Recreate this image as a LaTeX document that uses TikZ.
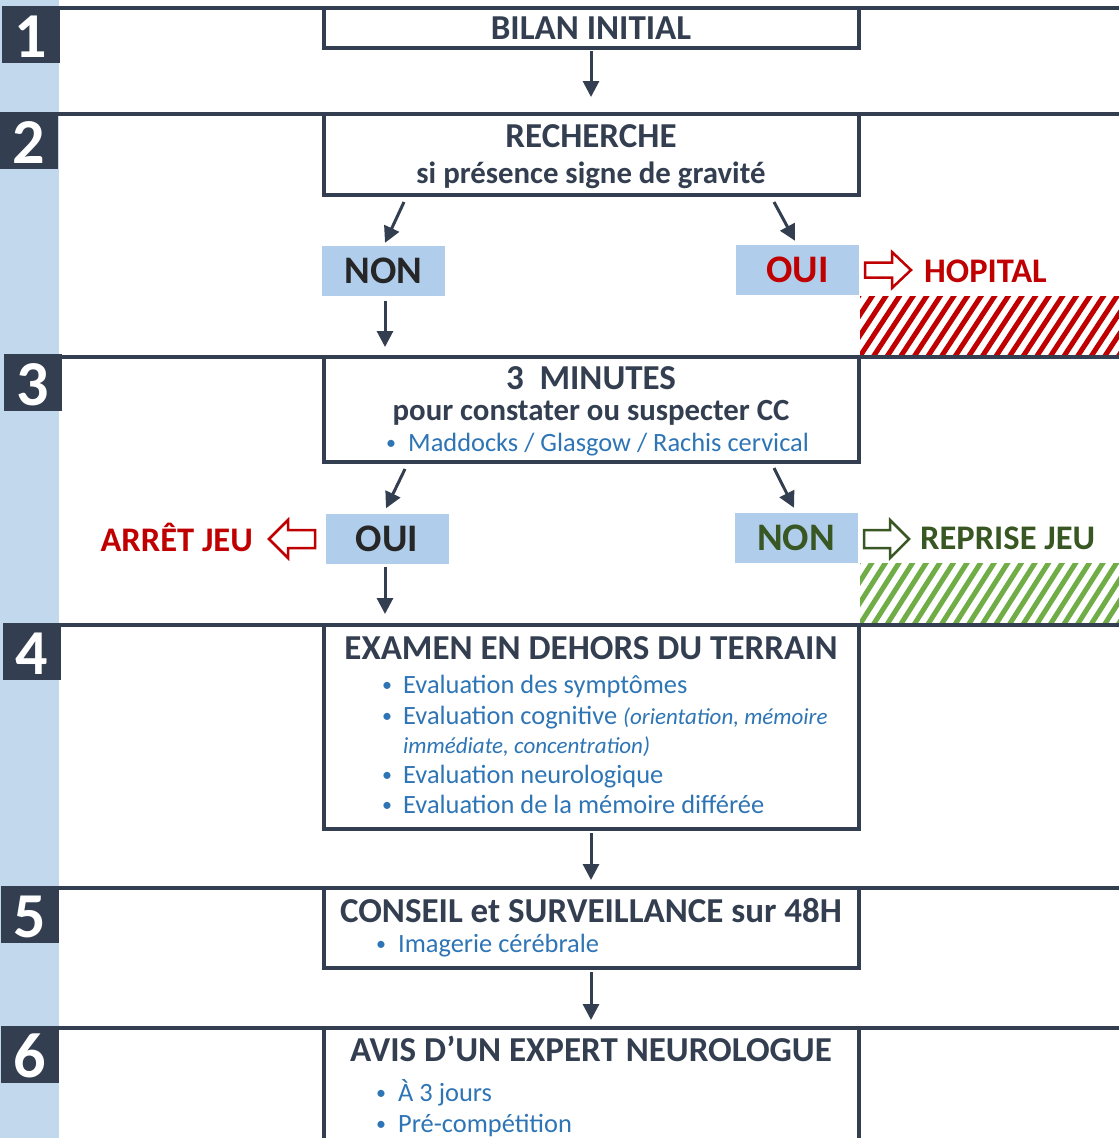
\documentclass[tikz,border=0pt]{standalone}
\usepackage{fontspec}
\setmainfont{Carlito}
\usetikzlibrary{arrows.meta}
\definecolor{navy}{HTML}{333F50}
\definecolor{stripc}{HTML}{C2D8EC}
\definecolor{labfill}{HTML}{B0CEEB}
\definecolor{bluetxt}{HTML}{2E75B6}
\definecolor{redc}{HTML}{C00000}
\definecolor{greenc}{HTML}{385723}
\definecolor{hatchg}{HTML}{70AD47}
\definecolor{darktxt}{HTML}{262626}
\newcommand\myfs[1]{\fontsize{#1}{#1}\selectfont}
\tikzset{
  mainbox/.style={draw=navy, line width=4pt, minimum width=535pt, inner sep=0pt, fill=white},
  hdr/.style={font=\bfseries\myfs{35}, text=navy, inner sep=0pt, anchor=base},
  subhdr/.style={font=\bfseries\myfs{30.8}, text=navy, inner sep=0pt, anchor=base},
  item/.style={font=\myfs{26.4}, text=bluetxt, inner sep=0pt, anchor=base west},
  itdot/.style={font=\myfs{20}, text=bluetxt, inner sep=0pt, anchor=base},
  lab/.style={fill=labfill, minimum width=123pt, minimum height=50pt, inner sep=0pt, font=\bfseries\myfs{39}},
  outtxt/.style={font=\bfseries\myfs{34.5}, inner sep=0pt},
  numbox/.style={fill=navy, minimum width=58pt, minimum height=57pt, inner sep=0pt},
  digit/.style={font=\bfseries\myfs{64}, text=white, inner sep=0pt, anchor=base},
  sepline/.style={draw=navy, line width=4pt},
  arr/.style={draw=navy, line width=3pt, -{Triangle[width=16pt,length=16pt]}},
  blockr/.style={draw=redc, line width=2.5pt, fill=white, line join=miter},
  blockg/.style={draw=greenc, line width=2.5pt, fill=white, line join=miter},
}
\begin{document}
\begin{tikzpicture}[x=1pt,y=-1pt]
\useasboundingbox (0,0) rectangle (1119,1138);
% left strip
\fill[stripc] (0,0) rectangle (59,1138);
% separators
\foreach \yy in {8,114,357,625,888,1028} \draw[sepline] (50,\yy) -- (1119,\yy);
% hatched areas
\begin{scope}
  \clip (860,296) rectangle (1119,354);
  \foreach \k in {0,...,23} \draw[redc, line width=5pt] ({818+\k*13.6},358) -- ++(42,-64);
\end{scope}
\begin{scope}
  \clip (860,563) rectangle (1119,622);
  \foreach \k in {0,...,23} \draw[hatchg, line width=5pt] ({818+\k*13.6},626) -- ++(42,-66);
\end{scope}
% number boxes
\node[numbox] (n1) at (31,34.5) {};
\node[numbox] (n2) at (29,140) {};
\node[numbox] (n3) at (33,382.5) {};
\node[numbox] (n4) at (31.5,651) {};
\node[numbox] (n5) at (30,914) {};
\node[numbox] (n6) at (30,1054) {};
\node[digit] (d1) at ([yshift=5.5pt]n1.south) {1};
\node[digit] (d2) at ([yshift=5.5pt]n2.south) {2};
\node[digit] (d3) at ([yshift=5.5pt]n3.south) {3};
\node[digit] (d4) at ([yshift=5.5pt]n4.south) {4};
\node[digit] (d5) at ([yshift=5.5pt]n5.south) {5};
\node[digit] (d6) at ([yshift=5.5pt]n6.south) {6};
% main boxes
\node[mainbox, minimum height=40pt] (b1) at (591,28) {};
\node[mainbox, minimum height=81pt] (b2) at (591,154.5) {};
\node[mainbox, minimum height=105pt] (b3) at (591,409.5) {};
\node[mainbox, minimum height=204pt] (b4) at (591,727) {};
\node[mainbox, minimum height=80pt] (b5) at (591,928) {};
\node[mainbox, minimum height=132pt] (b6) at (591,1094) {};
% texts of boxes
\node[hdr] (t1) at (591,39) {BILAN INITIAL};
\node[hdr] (t2a) at (591,147) {RECHERCHE};
\node[subhdr] (t2b) at (591,183) {si présence signe de gravité};
\node[hdr] (t3a) at (591,389) {3\hspace{0.45em}MINUTES};
\node[subhdr] (t3b) at (591,420) {pour constater ou suspecter CC};
\node[itdot] (p3) at (391,449) {•};
\node[item] (t3c) at (408,451) {Maddocks / Glasgow / Rachis cervical};
\node[hdr] (t4a) at (591,659) {EXAMEN EN DEHORS DU TERRAIN};
\node[itdot] (p4a) at (387,691) {•};
\node[item] (t4b) at (403,693) {Evaluation des symptômes};
\node[itdot] (p4b) at (387,722) {•};
\node[item] (t4c) at (403,724) {Evaluation cognitive {\itshape\myfs{23}(orientation, mémoire}};
\node[item, font=\itshape\myfs{23}] (t4d) at (403,753) {immédiate, concentration)};
\node[itdot] (p4c) at (387,781) {•};
\node[item] (t4e) at (403,783) {Evaluation neurologique};
\node[itdot] (p4d) at (387,811) {•};
\node[item] (t4f) at (403,813) {Evaluation de la mémoire différée};
\node[hdr] (t5a) at (591,922) {CONSEIL et SURVEILLANCE sur 48H};
\node[itdot] (p5) at (381,950) {•};
\node[item] (t5b) at (398,952) {Imagerie cérébrale};
\node[hdr] (t6a) at (591,1061) {AVIS D’UN EXPERT NEUROLOGUE};
\node[itdot] (p6a) at (381,1099) {•};
\node[item] (t6b) at (398,1101) {À 3 jours};
\node[itdot] (p6b) at (381,1130) {•};
\node[item] (t6c) at (398,1132) {Pré-compétition};
% label boxes
\node[lab, text=darktxt] (non1) at (383.5,271) {NON};
\node[lab, text=redc] (oui1) at (797.5,270) {OUI};
\node[lab, text=darktxt] (oui2) at (387,538.5) {OUI};
\node[lab, text=greenc] (non2) at (796,538) {NON};
% outcome texts
\node[outtxt, text=redc, anchor=base west] (hop) at (924,282) {HOPITAL};
\node[outtxt, text=redc, anchor=base east] (arret) at (253,551) {ARRÊT JEU};
\node[outtxt, text=greenc, anchor=base west] (rep) at (920,549) {REPRISE JEU};
% block arrows
\draw[blockr] (865,262.5) -- (892,262.5) -- (892,252) -- (911,270) -- (892,288) -- (892,277.5) -- (865,277.5) -- cycle;
\draw[blockr] (315,530) -- (288,530) -- (288,520) -- (269,539) -- (288,558) -- (288,548) -- (315,548) -- cycle;
\draw[blockg] (864,530) -- (890,530) -- (890,520) -- (909,539) -- (890,558) -- (890,548) -- (864,548) -- cycle;
% connectors
\draw[arr, shorten <=1pt, shorten >=15pt] (b1.south) -- (b2.north);
\draw[arr] ([xshift=82.5pt,yshift=-5pt]b2.south west) -- ([xshift=1.5pt,yshift=3pt]non1.north);
\draw[arr] ([xshift=-86.5pt,yshift=-5pt]b2.south east) -- ([xshift=-2.5pt,yshift=4pt]oui1.north);
\draw[arr, shorten <=5pt, shorten >=8pt] ([xshift=1.5pt]non1.south) -- ([xshift=1.5pt]non1.south |- b3.north);
\draw[arr] ([xshift=83.5pt,yshift=-5pt]b3.south west) -- ([xshift=-1pt,yshift=5pt]oui2.north);
\draw[arr] ([xshift=-86.5pt,yshift=-4pt]b3.south east) -- ([xshift=-2pt,yshift=5pt]non2.north);
\draw[arr, shorten <=3pt, shorten >=9pt] ([xshift=-2pt]oui2.south) -- ([xshift=-2pt]oui2.south |- b4.north);
\draw[arr, shorten <=2pt, shorten >=6pt] (b4.south) -- (b5.north);
\draw[arr, shorten <=2pt, shorten >=6pt] (b5.south) -- (b6.north);
\end{tikzpicture}
\end{document}
